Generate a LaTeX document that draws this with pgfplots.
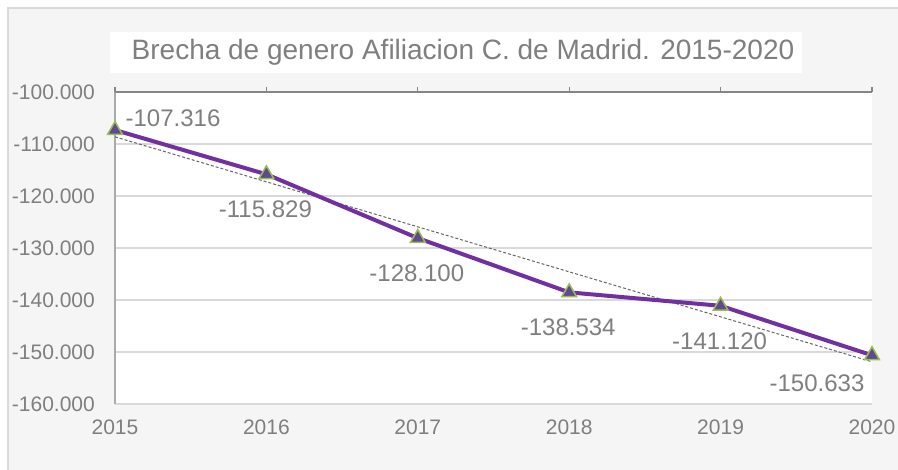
\documentclass[border=0pt]{standalone}
\usepackage{pgfplots}
\pgfplotsset{compat=1.18}
\usepackage{fontspec}
\setmainfont{Liberation Sans}
\definecolor{bgc}{HTML}{F5F5F5}
\definecolor{brd}{HTML}{D9D9D9}
\definecolor{txt}{HTML}{7F7F7F}
\definecolor{linec}{HTML}{7030A0}
\definecolor{mfill}{HTML}{5F4B8B}
\definecolor{medge}{HTML}{9BBB59}
\definecolor{axc}{HTML}{868686}
\begin{document}
\begin{tikzpicture}
\useasboundingbox (0pt,0pt) rectangle (898pt,470pt);
\fill[white] (0pt,0pt) rectangle (898pt,470pt);
\fill[bgc] (8pt,0pt) rectangle (898pt,462pt);
\draw[brd, line width=1.5pt] (8pt,0pt) -- (8pt,462pt) -- (898pt,462pt);
\fill[white] (110pt,397pt) rectangle (802pt,438pt);
\node[inner sep=0pt, text=txt, font=\fontsize{28}{32}\selectfont] at (463pt,417.5pt) {Brecha de genero Afiliacion C. de Madrid. 2015-2020};
\begin{axis}[
  at={(115pt,66pt)}, anchor=south west,
  scale only axis, width=757pt, height=312pt,
  xmin=2015, xmax=2020, ymin=-160000, ymax=-100000,
  clip=false,
  axis background/.style={fill=white},
  axis line style={draw=none},
  xtick={2015,2016,2017,2018,2019,2020},
  xticklabels={2015,2016,2017,2018,2019,2020},
  xtick pos=upper, xticklabel pos=lower,
  tick align=outside, major tick length=5pt,
  xtick style={axc, line width=1.2pt},
  ytick={-160000,-150000,-140000,-130000,-120000,-110000,-100000},
  ytick style={draw=none},
  ymajorgrids, major grid style={brd, line width=1.5pt},
  /pgf/number format/assume math mode=true,
  /pgf/number format/.cd, fixed, 1000 sep={.}, precision=0, /pgfplots/.cd,
  scaled y ticks=false,
  yticklabel style={anchor=east, inner sep=0pt, xshift=-15pt, text=txt, font=\fontsize{21}{25}\selectfont},
  xticklabel style={anchor=north, inner sep=0pt, yshift=-11pt, text=txt, font=\fontsize{21}{25}\selectfont},
]
\draw[axc!70, line width=1.2pt] (rel axis cs:0,0) -- (rel axis cs:0,1);
\draw[axc, line width=1.5pt] (rel axis cs:0,1) -- (rel axis cs:1,1);
% linear trend (endpoints of least-squares fit)
\addplot[gray!80!black, line width=1pt, dash pattern=on 3pt off 2pt, mark=none] coordinates {(2015,-108620) (2020,-151890)};
\addplot[linec, line width=4pt, mark=triangle*, mark size=8.5pt,
  mark options={fill=mfill, draw=medge, line width=1.5pt, solid}] coordinates {
  (2015,-107316) (2016,-115829) (2017,-128100) (2018,-138534) (2019,-141120) (2020,-150633)};
% data labels
\addplot[draw=none, mark=none, nodes near coords, point meta=explicit symbolic,
  every node near coord/.style={anchor=center, inner sep=0pt, xshift=58pt, yshift=12pt, text=txt, font=\fontsize{24}{28}\selectfont}]
  coordinates {(2015,-107316) [-107.316]};
\addplot[draw=none, mark=none, nodes near coords, point meta=explicit symbolic,
  every node near coord/.style={anchor=center, inner sep=0pt, xshift=-1pt, yshift=-35pt, text=txt, font=\fontsize{24}{28}\selectfont}]
  coordinates {(2016,-115829) [-115.829] (2017,-128100) [-128.100] (2018,-138534) [-138.534] (2019,-141120) [-141.120]};
\addplot[draw=none, mark=none, nodes near coords, point meta=explicit symbolic,
  every node near coord/.style={anchor=center, inner sep=0pt, xshift=-55pt, yshift=-28pt, text=txt, font=\fontsize{24}{28}\selectfont}]
  coordinates {(2020,-150633) [-150.633]};
\end{axis}
\end{tikzpicture}
\end{document}
